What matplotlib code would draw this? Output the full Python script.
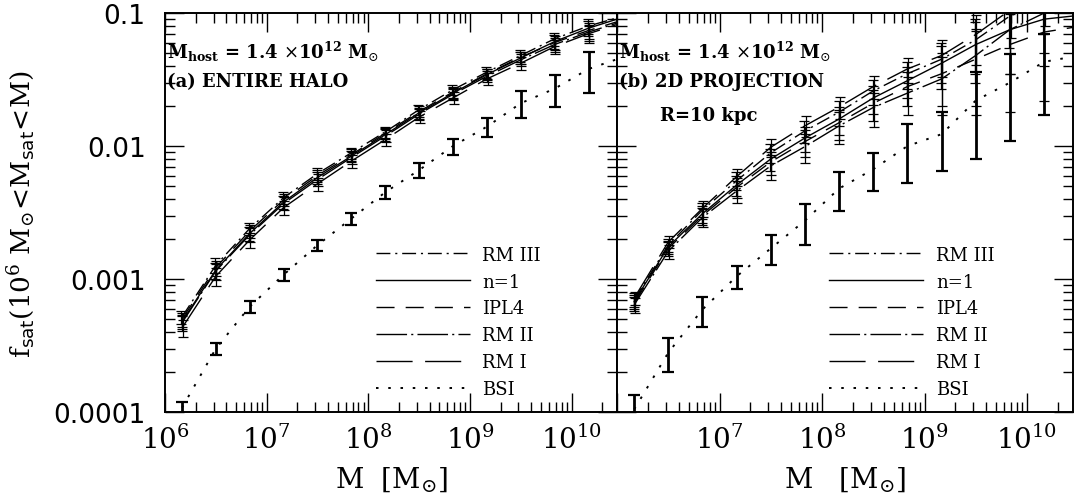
import matplotlib
matplotlib.use("Agg")
import matplotlib.pyplot as plt
from matplotlib.ticker import FixedLocator, LogLocator, NullFormatter

plt.rcParams["mathtext.fontset"] = "dejavuserif"

# bin centres (M_sun) where the error bars sit, plus where the curves end
mass = [1.47e6, 3.16e6, 6.8e6, 1.47e7, 3.16e7, 6.8e7, 1.47e8,
        3.16e8, 6.8e8, 1.47e9, 3.16e9, 6.8e9, 1.47e10]
mass_end = 2.8e10

models = ["RM III", "n=1", "IPL4", "RM II", "RM I"]

# (a) entire halo -- last value is at mass_end
halo_rm3 = [5.2e-4, 1.27e-3, 2.4e-3, 4.1e-3, 6.2e-3, 8.9e-3, 1.28e-2, 1.88e-2, 2.65e-2, 3.6e-2, 4.8e-2, 6.4e-2, 8.0e-2, 9.2e-2]
halo_n1 = [4.8e-4, 1.17e-3, 2.2e-3, 3.8e-3, 5.8e-3, 8.4e-3, 1.22e-2, 1.78e-2, 2.5e-2, 3.45e-2, 4.6e-2, 6.1e-2, 7.7e-2, 9.0e-2]
halo_ipl4 = [5.0e-4, 1.22e-3, 2.3e-3, 3.95e-3, 6.0e-3, 8.6e-3, 1.25e-2, 1.82e-2, 2.55e-2, 3.5e-2, 4.65e-2, 6.0e-2, 7.4e-2, 8.6e-2]
halo_rm2 = [4.7e-4, 1.15e-3, 2.15e-3, 3.7e-3, 5.6e-3, 8.2e-3, 1.19e-2, 1.74e-2, 2.45e-2, 3.35e-2, 4.45e-2, 5.8e-2, 7.2e-2, 8.4e-2]
halo_rm1 = [4.3e-4, 1.05e-3, 1.97e-3, 3.45e-3, 5.2e-3, 7.7e-3, 1.12e-2, 1.65e-2, 2.3e-2, 3.2e-2, 4.2e-2, 5.6e-2, 7.0e-2, 8.2e-2]
halo_err = [6e-5, 1.6e-4, 2.6e-4, 4.2e-4, 6e-4, 8.5e-4, 1.2e-3, 1.7e-3, 2.4e-3, 3.3e-3, 4.8e-3, 7e-3, 1.0e-2]
halo_bsi = [1.08e-4, 3.0e-4, 6.2e-4, 1.08e-3, 1.8e-3, 2.85e-3, 4.5e-3, 6.6e-3, 1.0e-2, 1.4e-2, 2.1e-2, 2.7e-2, 3.8e-2, 4.5e-2]
halo_bsi_err = [1.2e-5, 3e-5, 6e-5, 1.1e-4, 1.8e-4, 3e-4, 5e-4, 8e-4, 1.4e-3, 2.2e-3, 4.8e-3, 7.3e-3, 1.3e-2]

# (b) 2D projection, R = 10 kpc
proj_rm3 = [7.0e-4, 1.8e-3, 3.3e-3, 5.5e-3, 8.9e-3, 1.3e-2, 1.8e-2, 2.6e-2, 3.5e-2, 4.5e-2, 6.3e-2, 9.5e-2, 1.2e-1, 1.4e-1]
proj_n1 = [6.8e-4, 1.75e-3, 3.1e-3, 5.1e-3, 8.0e-3, 1.15e-2, 1.6e-2, 2.3e-2, 3.1e-2, 4.2e-2, 5.8e-2, 7.5e-2, 9.0e-2, 9.5e-2]
proj_ipl4 = [6.6e-4, 1.7e-3, 3.0e-3, 4.9e-3, 7.6e-3, 1.08e-2, 1.5e-2, 2.1e-2, 2.8e-2, 3.5e-2, 4.5e-2, 5.8e-2, 7.2e-2, 7.8e-2]
proj_rm2 = [6.4e-4, 1.62e-3, 2.9e-3, 4.6e-3, 7.1e-3, 9.9e-3, 1.42e-2, 1.95e-2, 2.5e-2, 3.2e-2, 4.8e-2, 7.5e-2, 1.0e-1, 1.2e-1]
proj_rm1 = [7.2e-4, 1.9e-3, 3.4e-3, 5.9e-3, 9.8e-3, 1.42e-2, 1.97e-2, 2.8e-2, 3.8e-2, 4.8e-2, 6.9e-2, 1.05e-1, 1.3e-1, 1.5e-1]
proj_err = [8e-5, 2e-4, 4.5e-4, 8.5e-4, 1.5e-3, 2.5e-3, 3.8e-3, 5.5e-3, 8e-3, 1.5e-2, 2.8e-2, 4.0e-2, 5.0e-2]
proj_bsi = [1.05e-4, 2.8e-4, 5.9e-4, 1.05e-3, 1.7e-3, 2.75e-3, 4.8e-3, 6.7e-3, 1.0e-2, 1.23e-2, 2.2e-2, 3.0e-2, 4.3e-2, 4.7e-2]
proj_bsi_err = [3e-5, 8e-5, 1.5e-4, 2.1e-4, 4.3e-4, 9.5e-4, 1.55e-3, 2.1e-3, 4.7e-3, 5.8e-3, 1.4e-2, 1.9e-2, 2.6e-2]

xticks = [1e6, 1e7, 1e8, 1e9, 1e10]
xtick_labels = [r"$10^{6}$", r"$10^{7}$", r"$10^{8}$", r"$10^{9}$", r"$10^{10}$"]
yticks = [1e-4, 1e-3, 1e-2, 1e-1]
ytick_labels = ["0.0001", "0.001", "0.01", "0.1"]

dashes = {
    "RM III": (0, (10, 3.5, 1.5, 3.5)),
    "n=1": "-",
    "IPL4": (0, (13, 8)),
    "RM II": (0, (22, 3, 1.5, 3)),
    "RM I": (0, (26, 9)),
    "BSI": (0, (1.3, 5)),
}
# tiny sideways nudges so the overlapping bars look like the original
nudge = [0.985, 0.993, 1.0, 1.007, 1.015]


def draw_panel(ax, curves, err, bsi, bsi_err):
    line_x = mass + [mass_end]
    for name, vals, f in zip(models, curves, nudge):
        ax.plot(line_x, vals, color="k", lw=1.0, ls=dashes[name], label=name)
        ax.errorbar([m * f for m in mass], vals[:len(mass)], yerr=err, fmt="none",
                    ecolor="k", elinewidth=0.9, capsize=3.5, capthick=0.9)
    ax.plot(line_x, bsi, color="k", lw=1.4, ls=dashes["BSI"], label="BSI")
    ax.errorbar(mass, bsi[:len(mass)], yerr=bsi_err, fmt="none", ecolor="k",
                elinewidth=2.0, capsize=4, capthick=1.6)

    ax.set_xscale("log")
    ax.set_yscale("log")
    ax.set_xlim(1e6, mass_end)
    ax.set_ylim(1e-4, 0.1)
    ax.xaxis.set_major_locator(FixedLocator(xticks))
    ax.yaxis.set_major_locator(FixedLocator(yticks))
    ax.xaxis.set_minor_locator(LogLocator(base=10, subs=range(2, 10), numticks=20))
    ax.yaxis.set_minor_locator(LogLocator(base=10, subs=range(2, 10), numticks=20))
    ax.xaxis.set_minor_formatter(NullFormatter())
    ax.yaxis.set_minor_formatter(NullFormatter())
    ax.tick_params(which="both", direction="in", top=True, right=True, width=1.0)
    ax.tick_params(which="major", length=14)
    ax.tick_params(which="minor", length=7)
    ax.tick_params(axis="x", labelsize=20, pad=9)
    for s in ax.spines.values():
        s.set_linewidth(1.4)

    leg = ax.legend(loc="lower left", bbox_to_anchor=(0.43, -0.005), frameon=False,
                    handlelength=5.2, handletextpad=0.7, labelspacing=0.49,
                    prop={"family": "DejaVu Serif", "size": 13})
    return leg


fig = plt.figure(figsize=(10.75, 5.02), dpi=100)
ax1 = fig.add_axes([0.1535, 0.177, 0.4205, 0.795])
ax2 = fig.add_axes([0.574, 0.177, 0.424, 0.795])

draw_panel(ax1, [halo_rm3, halo_n1, halo_ipl4, halo_rm2, halo_rm1], halo_err, halo_bsi, halo_bsi_err)
draw_panel(ax2, [proj_rm3, proj_n1, proj_ipl4, proj_rm2, proj_rm1], proj_err, proj_bsi, proj_bsi_err)

ax1.set_xticklabels(xtick_labels)
ax2.set_xticklabels([""] + xtick_labels[1:])
ax1.set_yticklabels(ytick_labels, fontsize=19, family="DejaVu Sans")
ax1.tick_params(axis="y", pad=14)
ax2.set_yticklabels([])

ax1.set_xlabel(r"$\mathrm{M\ \ [M_{\odot}]}$", fontsize=20, labelpad=7)
ax2.set_xlabel(r"$\mathrm{M\quad [M_{\odot}]}$", fontsize=20, labelpad=7)
ax1.set_ylabel(r"$\mathrm{f}_{\mathsf{sat}}(10^{6}\ \mathrm{M}_{\odot}\!<\!\mathrm{M}_{\mathsf{sat}}\!<\!\mathrm{M})$",
               fontsize=19, labelpad=12)

host = r"M$_{\mathbf{host}}$ = 1.4 $\times$10$^{\mathbf{12}}$ M$_{\odot}$"
txt = dict(family="DejaVu Serif", weight="bold", fontsize=13, va="center", ha="left")
ax1.text(0.005, 0.905, host, transform=ax1.transAxes, **txt)
ax1.text(0.005, 0.83, "(a) ENTIRE HALO", transform=ax1.transAxes, **txt)
ax2.text(0.005, 0.905, host, transform=ax2.transAxes, **txt)
ax2.text(0.005, 0.83, "(b) 2D PROJECTION", transform=ax2.transAxes, **txt)
ax2.text(0.095, 0.745, "R=10 kpc", transform=ax2.transAxes, **txt)

fig.savefig("out.png", dpi=100)
